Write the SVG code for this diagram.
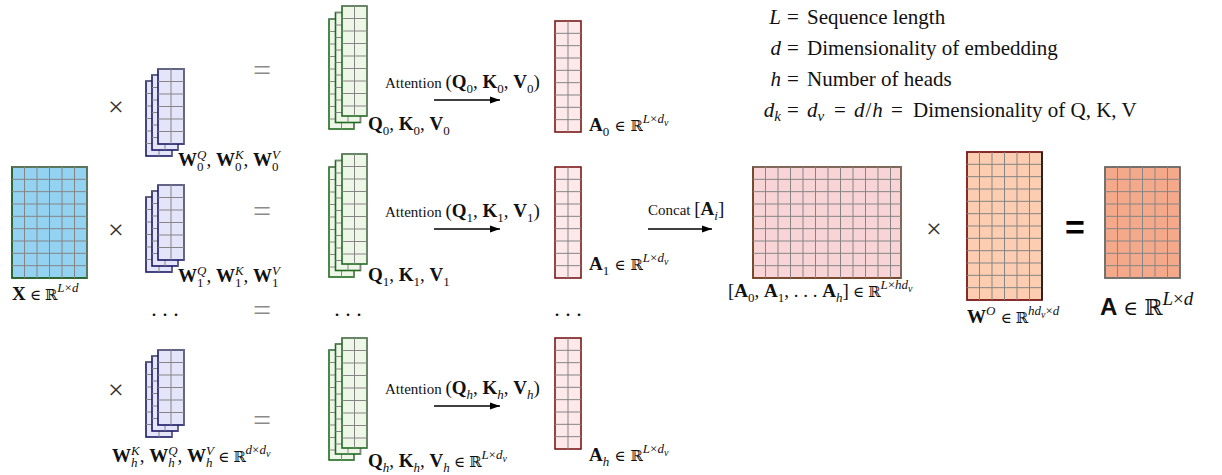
<svg xmlns="http://www.w3.org/2000/svg" width="1222" height="475" viewBox="0 0 1222 475">
<style>
.tx{font-family:"Liberation Serif","DejaVu Serif",serif;fill:#111}
.m{font-size:19px}
.w{font-size:15px}
.lg{font-size:21px}
.b{font-weight:bold}
.i{font-style:italic}
.s{font-size:13px}
.ss{font-size:10px}
.sl{font-size:15px}
.r{font-family:"DejaVu Serif","DejaVu Sans",serif;font-size:15px}
.op{font-family:"Liberation Serif",serif;font-size:28px;fill:#333;text-anchor:middle}
.eq{font-family:"Liberation Serif",serif;font-size:32px;fill:#8a8a8a;text-anchor:middle}
.dots{font-family:"Liberation Serif",serif;font-size:22px;fill:#111;text-anchor:middle}
.grid{fill:none;stroke:#858585;stroke-width:1}
.conn{stroke:#000;stroke-width:1.5;fill:none;marker-end:url(#ah)}
</style>
<defs>
<marker id="ah" viewBox="0 0 10 10" refX="10" refY="5" markerWidth="10" markerHeight="10" markerUnits="userSpaceOnUse" orient="auto"><path d="M0 1.5L10 5L0 8.5z" fill="#000"/></marker>
<g id="gX"><rect width="75" height="111" fill="#93d2f0" stroke="#1d5a1d" stroke-width="1.8"/><path class="grid" d="M12.5 0V111M25 0V111M37.5 0V111M50 0V111M62.5 0V111M75 0V111M0 0H75M0 12.33H75M0 24.67H75M0 37H75M0 49.33H75M0 61.67H75M0 74H75M0 86.33H75M0 98.67H75"/></g>
<g id="gW"><rect width="26" height="75" fill="#e4e4fb" stroke="#1a1a66" stroke-width="1.6"/><path class="grid" d="M13 0V75M26 0V75M0 0H26M0 12.5H26M0 25H26M0 37.5H26M0 50H26M0 62.5H26"/></g>
<g id="gQ"><rect width="25" height="110" fill="#eef6e8" stroke="#1e6b1e" stroke-width="1.6"/><path class="grid" d="M12.5 0V110M25 0V110M0 0H25M0 12.5H25M0 25H25M0 37.5H25M0 50H25M0 62.5H25M0 75H25M0 87.5H25M0 100H25"/></g>
<g id="gA"><rect width="26" height="111" fill="#fde8ea" stroke="#7a1a1a" stroke-width="1.6"/><path class="grid" d="M13 0V111M0 12.33H26M0 24.67H26M0 37H26M0 49.33H26M0 61.67H26M0 74H26M0 86.33H26M0 98.67H26"/></g>
</defs>

<g id="legend">
<text class="tx lg i" x="781" y="24" text-anchor="end">L</text>
<text class="tx lg" x="787" y="24">=<tspan x="807">Sequence length</tspan></text>
<text class="tx lg i" x="781" y="55" text-anchor="end">d</text>
<text class="tx lg" x="787" y="55">=<tspan x="807">Dimensionality of embedding</tspan></text>
<text class="tx lg i" x="781" y="86" text-anchor="end">h</text>
<text class="tx lg" x="787" y="86">=<tspan x="807">Number of heads</tspan></text>
<text class="tx lg" x="781" y="117" text-anchor="end"><tspan class="i">d</tspan><tspan class="i sl" dy="4">k</tspan></text>
<text class="tx lg" y="117"><tspan x="787">=</tspan><tspan x="807" class="i">d</tspan><tspan class="i sl" dy="4">v</tspan><tspan x="834" dy="-4">=</tspan><tspan x="854" class="i">d</tspan><tspan dx="1">/</tspan><tspan class="i" dx="1">h</tspan><tspan x="891">=</tspan><tspan x="913">Dimensionality of Q, K, V</tspan></text>
</g>

<g id="X">
<use href="#gX" x="12" y="167"/>
<text class="tx m" x="12" y="300"><tspan class="b">X</tspan><tspan class="r" dx="4">∈</tspan><tspan class="r" dx="4">ℝ</tspan><tspan class="s i" dy="-8">L</tspan><tspan class="s">×</tspan><tspan class="s i">d</tspan></text>
</g>

<g id="ops">
<text class="op" x="116" y="116">×</text>
<text class="op" x="116" y="239">×</text>
<text class="op" x="116" y="399">×</text>
<text class="op" x="934" y="238">×</text>
<text class="eq" x="262" y="81">=</text>
<text class="eq" x="262" y="222">=</text>
<text class="eq" x="262" y="321">=</text>
<text class="eq" x="262" y="431">=</text>
<text x="1075" y="239" style="font-family:'Liberation Sans',sans-serif;font-size:34px;font-weight:bold;text-anchor:middle">=</text>
<text class="dots" x="165" y="316">. . .</text>
<text class="dots" x="348" y="316">. . .</text>
<text class="dots" x="568" y="316">. . .</text>
</g>

<g id="W0">
<use href="#gW" x="146" y="81"/><use href="#gW" x="152" y="75"/><use href="#gW" x="158" y="69"/>
<text class="tx m" x="178" y="166"><tspan class="b">W</tspan><tspan class="s" dy="5">0</tspan><tspan class="s i" dx="-6.5" dy="-12.5">Q</tspan><tspan dy="7.5">, </tspan><tspan class="b">W</tspan><tspan class="s" dy="5">0</tspan><tspan class="s i" dx="-6.5" dy="-12.5">K</tspan><tspan dy="7.5">, </tspan><tspan class="b">W</tspan><tspan class="s" dy="5">0</tspan><tspan class="s i" dx="-6.5" dy="-12.5">V</tspan></text>
</g>
<g id="W1">
<use href="#gW" x="146" y="197"/><use href="#gW" x="152" y="191"/><use href="#gW" x="158" y="185"/>
<text class="tx m" x="178" y="282"><tspan class="b">W</tspan><tspan class="s" dy="5">1</tspan><tspan class="s i" dx="-6.5" dy="-12.5">Q</tspan><tspan dy="7.5">, </tspan><tspan class="b">W</tspan><tspan class="s" dy="5">1</tspan><tspan class="s i" dx="-6.5" dy="-12.5">K</tspan><tspan dy="7.5">, </tspan><tspan class="b">W</tspan><tspan class="s" dy="5">1</tspan><tspan class="s i" dx="-6.5" dy="-12.5">V</tspan></text>
</g>
<g id="Wh">
<use href="#gW" x="146" y="362"/><use href="#gW" x="152" y="356"/><use href="#gW" x="158" y="350"/>
<text class="tx m" x="112" y="462"><tspan class="b">W</tspan><tspan class="s i" dy="5">h</tspan><tspan class="s i" dx="-6.5" dy="-12.5">K</tspan><tspan dy="7.5">, </tspan><tspan class="b">W</tspan><tspan class="s i" dy="5">h</tspan><tspan class="s i" dx="-6.5" dy="-12.5">Q</tspan><tspan dy="7.5">, </tspan><tspan class="b">W</tspan><tspan class="s i" dy="5">h</tspan><tspan class="s i" dx="-6.5" dy="-12.5">V</tspan><tspan class="r" dx="4" dy="7.5">∈</tspan><tspan class="r" dx="4">ℝ</tspan><tspan class="s i" dy="-8">d</tspan><tspan class="s">×</tspan><tspan class="s i">d</tspan><tspan class="ss i" dy="3">v</tspan></text>
</g>

<g id="Q0">
<use href="#gQ" x="329" y="19"/><use href="#gQ" x="335.5" y="12.5"/><use href="#gQ" x="342" y="6"/>
<text class="tx m" x="368" y="130"><tspan class="b">Q</tspan><tspan class="s" dy="5">0</tspan><tspan dy="-5">, </tspan><tspan class="b">K</tspan><tspan class="s" dy="5">0</tspan><tspan dy="-5">, </tspan><tspan class="b">V</tspan><tspan class="s" dy="5">0</tspan></text>
</g>
<g id="Q1">
<use href="#gQ" x="329" y="167"/><use href="#gQ" x="335.5" y="160.5"/><use href="#gQ" x="342" y="154"/>
<text class="tx m" x="368" y="281"><tspan class="b">Q</tspan><tspan class="s" dy="5">1</tspan><tspan dy="-5">, </tspan><tspan class="b">K</tspan><tspan class="s" dy="5">1</tspan><tspan dy="-5">, </tspan><tspan class="b">V</tspan><tspan class="s" dy="5">1</tspan></text>
</g>
<g id="Qh">
<use href="#gQ" x="329" y="350"/><use href="#gQ" x="335.5" y="344"/><use href="#gQ" x="342" y="338"/>
<text class="tx m" x="368" y="467"><tspan class="b">Q</tspan><tspan class="s i" dy="5">h</tspan><tspan dy="-5">, </tspan><tspan class="b">K</tspan><tspan class="s i" dy="5">h</tspan><tspan dy="-5">, </tspan><tspan class="b">V</tspan><tspan class="s i" dy="5">h</tspan><tspan class="r" dx="4" dy="-5">∈</tspan><tspan class="r" dx="4">ℝ</tspan><tspan class="s i" dy="-8">L</tspan><tspan class="s">×</tspan><tspan class="s i">d</tspan><tspan class="ss i" dy="3">v</tspan></text>
</g>

<g id="att-labels">
<text class="tx m" x="385" y="88"><tspan class="w">Attention </tspan>(<tspan class="b">Q</tspan><tspan class="s" dy="5">0</tspan><tspan dy="-5">, </tspan><tspan class="b">K</tspan><tspan class="s" dy="5">0</tspan><tspan dy="-5">, </tspan><tspan class="b">V</tspan><tspan class="s" dy="5">0</tspan><tspan dy="-5">)</tspan></text>
<text class="tx m" x="385" y="217"><tspan class="w">Attention </tspan>(<tspan class="b">Q</tspan><tspan class="s" dy="5">1</tspan><tspan dy="-5">, </tspan><tspan class="b">K</tspan><tspan class="s" dy="5">1</tspan><tspan dy="-5">, </tspan><tspan class="b">V</tspan><tspan class="s" dy="5">1</tspan><tspan dy="-5">)</tspan></text>
<text class="tx m" x="385" y="394"><tspan class="w">Attention </tspan>(<tspan class="b">Q</tspan><tspan class="s i" dy="5">h</tspan><tspan dy="-5">, </tspan><tspan class="b">K</tspan><tspan class="s i" dy="5">h</tspan><tspan dy="-5">, </tspan><tspan class="b">V</tspan><tspan class="s i" dy="5">h</tspan><tspan dy="-5">)</tspan></text>
<text class="tx m" x="648" y="215"><tspan class="w">Concat </tspan>[<tspan class="b">A</tspan><tspan class="s i" dy="5">i</tspan><tspan dy="-5">]</tspan></text>
</g>

<g id="A0">
<use href="#gA" x="555" y="21"/>
<text class="tx m" x="589" y="131"><tspan class="b">A</tspan><tspan class="s" dy="5">0</tspan><tspan class="r" dx="5" dy="-5">∈</tspan><tspan class="r" dx="5">ℝ</tspan><tspan class="s i" dy="-8">L</tspan><tspan class="s">×</tspan><tspan class="s i">d</tspan><tspan class="ss i" dy="3">v</tspan></text>
</g>
<g id="A1">
<use href="#gA" x="555" y="167"/>
<text class="tx m" x="589" y="270"><tspan class="b">A</tspan><tspan class="s" dy="5">1</tspan><tspan class="r" dx="5" dy="-5">∈</tspan><tspan class="r" dx="5">ℝ</tspan><tspan class="s i" dy="-8">L</tspan><tspan class="s">×</tspan><tspan class="s i">d</tspan><tspan class="ss i" dy="3">v</tspan></text>
</g>
<g id="Ah">
<use href="#gA" x="555" y="338"/>
<text class="tx m" x="589" y="461"><tspan class="b">A</tspan><tspan class="s i" dy="5">h</tspan><tspan class="r" dx="5" dy="-5">∈</tspan><tspan class="r" dx="5">ℝ</tspan><tspan class="s i" dy="-8">L</tspan><tspan class="s">×</tspan><tspan class="s i">d</tspan><tspan class="ss i" dy="3">v</tspan></text>
</g>

<g id="Concat">
<rect x="753" y="167" width="148" height="111" fill="#f9d4d7" stroke="#6b3a1a" stroke-width="1.8"/>
<path class="grid" transform="translate(753 167)" d="M12.5 0V111M25 0V111M37.5 0V111M50 0V111M62.5 0V111M75 0V111M87.5 0V111M100 0V111M112.5 0V111M125 0V111M137.5 0V111M148 0V111M0 0H148M0 12.33H148M0 24.67H148M0 37H148M0 49.33H148M0 61.67H148M0 74H148M0 86.33H148M0 98.67H148"/>
<text class="tx m" x="728" y="297">[<tspan class="b">A</tspan><tspan class="s" dy="5">0</tspan><tspan dy="-5">, </tspan><tspan class="b">A</tspan><tspan class="s" dy="5">1</tspan><tspan dy="-5">, . . . </tspan><tspan class="b">A</tspan><tspan class="s i" dy="5">h</tspan><tspan dy="-5">]</tspan><tspan class="r" dx="4">∈</tspan><tspan class="r" dx="4">ℝ</tspan><tspan class="s i" dy="-8">L</tspan><tspan class="s">×</tspan><tspan class="s i">hd</tspan><tspan class="ss i" dy="3">v</tspan></text>
</g>

<g id="WO">
<rect x="967" y="152" width="75" height="148" fill="#fccdb0" stroke="#7a1818" stroke-width="1.8"/>
<path class="grid" transform="translate(967 152)" d="M12.5 0V148M25 0V148M37.5 0V148M50 0V148M62.5 0V148M0 12.33H75M0 24.67H75M0 37H75M0 49.33H75M0 61.67H75M0 74H75M0 86.33H75M0 98.67H75M0 111H75M0 123.33H75M0 135.67H75"/>
<path d="M1042 152V300" stroke="#222" stroke-width="1.8"/>
<text class="tx m" x="967" y="323"><tspan class="b">W</tspan><tspan class="s i" dy="-8">O</tspan><tspan class="r" dx="5" dy="8">∈</tspan><tspan class="r" dx="4">ℝ</tspan><tspan class="s i" dy="-8">hd</tspan><tspan class="ss i" dy="3">v</tspan><tspan class="s" dy="-3">×</tspan><tspan class="s i">d</tspan></text>
</g>

<g id="A">
<rect x="1105" y="167" width="75" height="111" fill="#f5a98b" stroke="#666" stroke-width="1.8"/>
<path class="grid" transform="translate(1105 167)" d="M12.5 0V111M25 0V111M37.5 0V111M50 0V111M62.5 0V111M0 12.33H75M0 24.67H75M0 37H75M0 49.33H75M0 61.67H75M0 74H75M0 86.33H75M0 98.67H75"/>
<text class="tx" x="1100" y="315" style="font-size:24px"><tspan style="font-family:'Liberation Sans',sans-serif;font-weight:bold">A</tspan><tspan dx="6" style="font-family:'DejaVu Serif',serif;font-size:20px">∈</tspan><tspan dx="6" style="font-family:'DejaVu Serif',serif;font-size:22px">ℝ</tspan><tspan class="i" dy="-10" style="font-size:19px">L</tspan><tspan style="font-size:19px">×</tspan><tspan class="i" style="font-size:19px">d</tspan></text>
</g>

<g id="connectors">
<line class="conn" x1="434" y1="100" x2="500" y2="100"/>
<line class="conn" x1="434" y1="229" x2="500" y2="229"/>
<line class="conn" x1="434" y1="406" x2="500" y2="406"/>
<line class="conn" x1="648" y1="229" x2="712" y2="229"/>
</g>
</svg>
